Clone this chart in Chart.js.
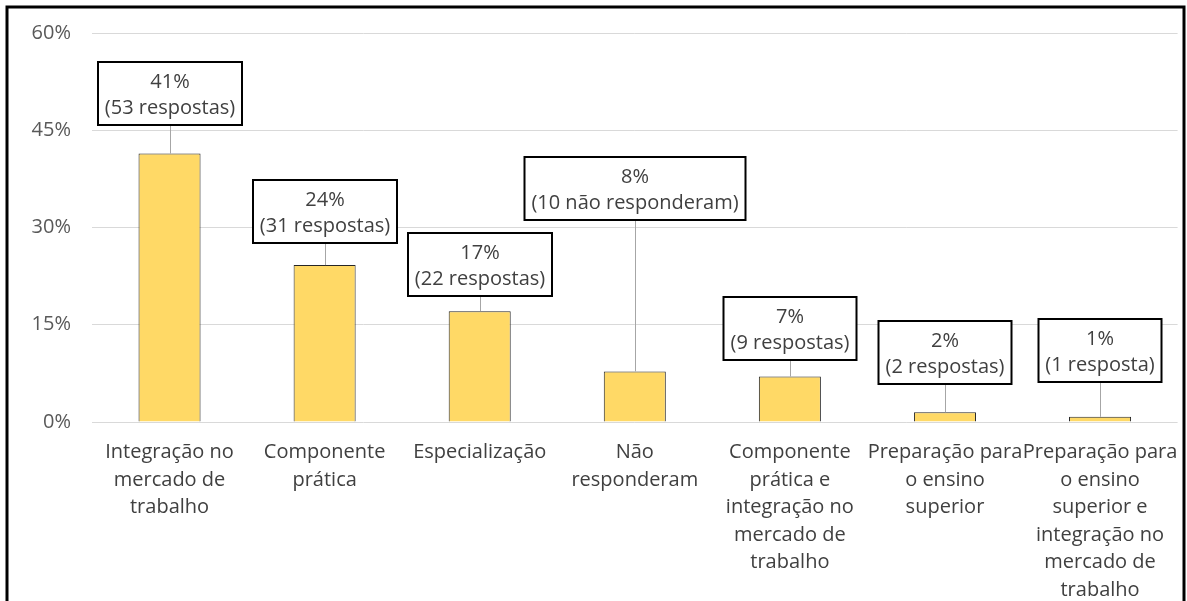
<!DOCTYPE html>
<html>
<head>
<meta charset="utf-8">
<script src="https://cdn.jsdelivr.net/npm/chart.js@4/dist/chart.umd.min.js"></script>
<style>
  html, body { margin: 0; padding: 0; background: #fff; }
  #wrap { width: 1187px; height: 601px; position: relative; }
</style>
</head>
<body>
<div id="wrap"><canvas id="myBarChart"></canvas></div>
<script>
// chart data
var categories = [
  ['Integração no', 'mercado de', 'trabalho'],
  ['Componente', 'prática'],
  ['Especialização'],
  ['Não', 'responderam'],
  ['Componente', 'prática e', 'integração no', 'mercado de', 'trabalho'],
  ['Preparação para', 'o ensino', 'superior'],
  ['Preparação para', 'o ensino', 'superior e', 'integração no', 'mercado de', 'trabalho']
];
var percentValues = [41.4, 24.2, 17.1, 7.8, 7.0, 1.5, 0.8];
var percentLabels = ['41%', '24%', '17%', '8%', '7%', '2%', '1%'];
var countLabels = ['(53 respostas)', '(31 respostas)', '(22 respostas)', '(10 não responderam)',
  '(9 respostas)', '(2 respostas)', '(1 resposta)'];
var yTicks = [0, 15, 30, 45, 60];

// gap between label box and top of bar, in px
var labelLift = [29, 22, 15, 151, 17, 28, 35];

var FONT = '"Open Sans", "Noto Sans", sans-serif';

// outer frame of the picture
var framePlugin = {
  id: 'frame',
  afterDraw: function(chart) {
    var ctx = chart.ctx;
    ctx.save();
    ctx.strokeStyle = '#000';
    ctx.lineWidth = 3;
    ctx.strokeRect(7, 7, 1177, 800);
    ctx.restore();
  }
};

// boxed value labels with leader lines
var boxLabelPlugin = {
  id: 'boxLabels',
  afterDatasetsDraw: function(chart) {
    var ctx = chart.ctx;
    var meta = chart.getDatasetMeta(0);
    ctx.save();
    ctx.font = '20px ' + FONT;
    meta.data.forEach(function(bar, i) {
      var w1 = ctx.measureText(percentLabels[i]).width;
      var w2 = ctx.measureText(countLabels[i]).width;
      var boxW = Math.round(Math.max(w1, w2) + 14);
      var boxH = 63;
      var bottom = Math.round(bar.y - labelLift[i]);
      var top = bottom - boxH;
      var cx = Math.round(bar.x);
      var left = cx - boxW / 2;

      // leader line
      ctx.strokeStyle = '#a6a6a6';
      ctx.lineWidth = 1;
      ctx.beginPath();
      ctx.moveTo(cx + 0.5, bottom);
      ctx.lineTo(cx + 0.5, bar.y);
      ctx.stroke();

      // box
      ctx.fillStyle = '#fff';
      ctx.fillRect(left, top, boxW, boxH);
      ctx.strokeStyle = '#000';
      ctx.lineWidth = 2;
      ctx.strokeRect(left, top, boxW, boxH);

      // text
      ctx.fillStyle = '#404040';
      ctx.textAlign = 'center';
      ctx.textBaseline = 'middle';
      ctx.fillText(percentLabels[i], cx, top + 20);
      ctx.fillText(countLabels[i], cx, top + 46);
    });
    ctx.restore();
  }
};

window.onload = function() {
  var ctx = document.getElementById('myBarChart').getContext('2d');

  var myBarChart = new Chart(ctx, {
    type: 'bar',
    data: {
      labels: categories,
      datasets: [{
        data: percentValues,
        backgroundColor: '#FFD966',
        borderColor: '#262626',
        borderWidth: 1,
        barPercentage: 0.4,
        categoryPercentage: 1.0
      }]
    },
    options: {
      responsive: true,
      maintainAspectRatio: false,
      animation: false,
      layout: {
        padding: { left: 0, right: 9, top: 30, bottom: 0 }
      },
      plugins: {
        legend: { display: false },
        title: { display: false },
        tooltip: { enabled: false }
      },
      scales: {
        x: {
          grid: { display: false },
          border: { display: false },
          ticks: {
            color: '#404040',
            font: { family: FONT, size: 20, lineHeight: 1.375 },
            maxRotation: 0,
            autoSkip: false,
            padding: 9
          },
          afterFit: function(scale) { scale.height = 179; }
        },
        y: {
          min: 0,
          max: 60,
          afterBuildTicks: function(scale) {
            scale.ticks = yTicks.map(function(v) { return { value: v }; });
          },
          grid: { color: '#d9d9d9', lineWidth: 1, drawTicks: false },
          border: { display: false },
          ticks: {
            color: '#595959',
            font: { family: FONT, size: 20 },
            padding: 21,
            callback: function(value) { return value + '%'; }
          },
          afterFit: function(scale) { scale.width = 92; }
        }
      }
    },
    plugins: [boxLabelPlugin, framePlugin]
  });
};
</script>
</body>
</html>
